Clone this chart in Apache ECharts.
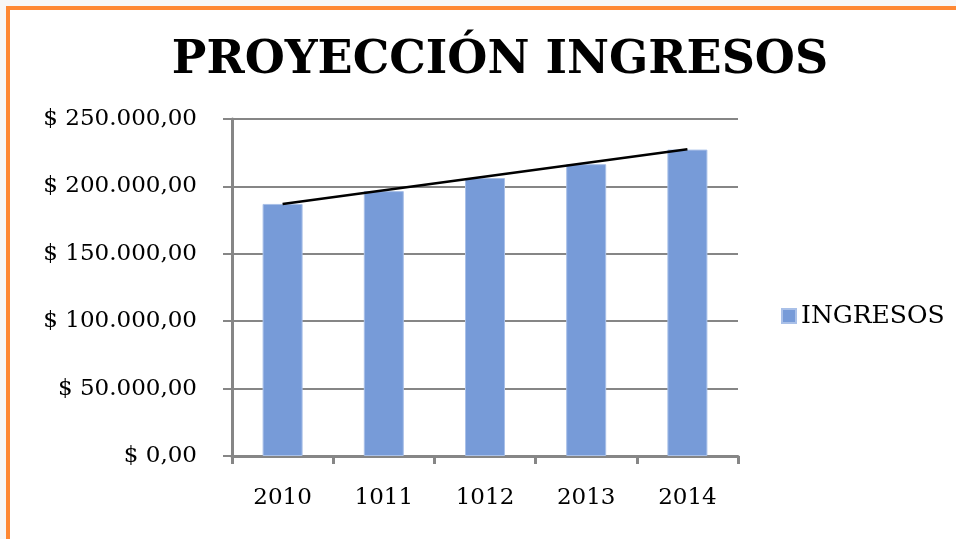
<!DOCTYPE html>
<html>
<head>
<meta charset="utf-8">
<script src="https://cdn.jsdelivr.net/npm/echarts@6/dist/echarts.min.js"></script>
<style>
  html, body { margin: 0; padding: 0; width: 956px; height: 539px; overflow: hidden; background: #f7f7f7; }
  .frame {
    position: absolute; left: 6px; top: 6px; width: 960px; height: 560px;
    background: #ffffff; border-top: 4px solid #fe8833; border-left: 4px solid #fe8833;
  }
  #chart { position: absolute; left: 0; top: 0; width: 956px; height: 539px; }
</style>
</head>
<body>
<div class="frame"></div>
<div id="chart"></div>
<script>
const categories = ['2010', '1011', '1012', '2013', '2014']
const ingresos = [187000, 196500, 206200, 216500, 227300]
// trend line endpoints (first and last category)
const trend = [186900, null, null, null, 227600]
const yTicks = [0, 50000, 100000, 150000, 200000, 250000]

const fontFamily = '"DejaVu Serif", serif'
const gridGray = '#868686'

function money(v) {
  const s = String(Math.round(v)).replace(/\B(?=(\d{3})+(?!\d))/g, '.')
  return '$ ' + s + ',00'
}

const chart = echarts.init(document.getElementById('chart'), null, { renderer: 'canvas' })

chart.setOption({
  animation: false,
  title: {
    text: 'PROYECCIÓN INGRESOS',
    left: 495,
    textAlign: 'center',
    top: 33,
    textStyle: { fontFamily, fontSize: 46, fontWeight: 'bold', color: '#000' },
  },
  legend: {
    data: [{ name: 'INGRESOS', icon: 'rect' }],
    orient: 'vertical',
    left: 781,
    top: 303,
    padding: 0,
    itemWidth: 14,
    itemHeight: 14,
    textStyle: { fontFamily, fontSize: 25, lineHeight: 26, color: '#000' },
  },
  grid: { left: 232, right: 218, top: 119, bottom: 83 },
  xAxis: {
    type: 'category',
    data: categories,
    axisLine: { lineStyle: { color: gridGray, width: 3 } },
    axisTick: { show: true, length: 8, lineStyle: { color: gridGray, width: 3 } },
    axisLabel: { fontFamily, fontSize: 23, color: '#000', margin: 31 },
  },
  yAxis: {
    type: 'value',
    min: yTicks[0],
    max: yTicks[yTicks.length - 1],
    interval: yTicks[1] - yTicks[0],
    axisLine: { show: true, lineStyle: { color: gridGray, width: 3 } },
    axisTick: { show: true, length: 9, lineStyle: { color: gridGray, width: 2 } },
    splitLine: { lineStyle: { color: gridGray, width: 2 } },
    axisLabel: { fontFamily, fontSize: 23, color: '#000', margin: 35, formatter: money },
  },
  series: [
    {
      name: 'INGRESOS',
      type: 'bar',
      data: ingresos,
      barWidth: 40,
      itemStyle: { color: '#779bd8', borderColor: '#a9c0e8', borderWidth: 1 },
      z: 2,
    },
    {
      name: 'trend',
      type: 'line',
      data: trend,
      connectNulls: true,
      symbol: 'none',
      lineStyle: { color: '#000', width: 2.5 },
      z: 3,
    },
  ],
})
</script>
</body>
</html>
